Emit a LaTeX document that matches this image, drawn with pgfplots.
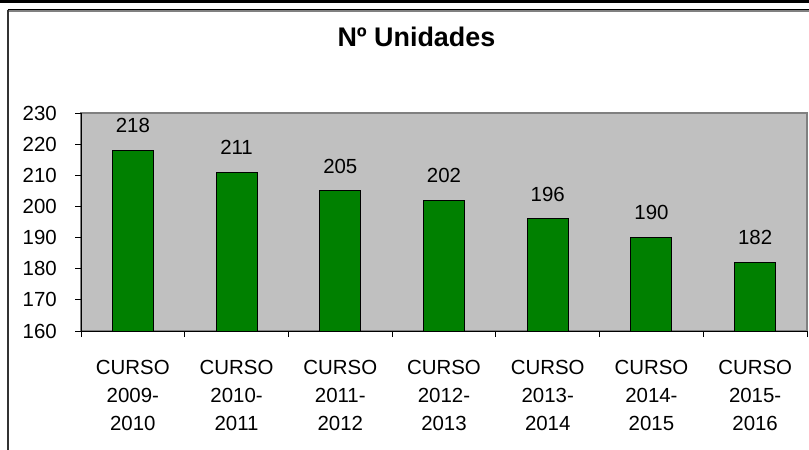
\documentclass[border=0pt]{standalone}
\usepackage{pgfplots}
\pgfplotsset{compat=1.18}
\usepackage{fontspec}
\setmainfont{Liberation Sans}
\definecolor{barGreen}{HTML}{008000}
\definecolor{plotGray}{HTML}{C0C0C0}
\definecolor{borderGray}{HTML}{808080}
\begin{document}
\begin{tikzpicture}
\useasboundingbox (0,0) rectangle (809bp,450bp);
% chart frame
\fill[black] (0,447.4bp) rectangle (809bp,450bp);
\draw[borderGray, line width=1.2bp] (8bp,439bp) -- (809bp,439bp);
\draw[black, line width=1.1bp] (7.5bp,440.2bp) -- (809bp,440.2bp);
\draw[black!80, line width=1.1bp] (8bp,440.2bp) -- (8bp,0bp);
\begin{axis}[
  at={(81bp,119bp)}, anchor=south west,
  width=726bp, height=218bp, scale only axis,
  /pgf/number format/assume math mode=true,
  xmin=-0.5, xmax=6.5, ymin=160, ymax=230,
  ytick={160,170,...,230},
  xtick={-0.5,0.5,1.5,2.5,3.5,4.5,5.5,6.5},
  x tick label as interval=true,
  xticklabels={{CURSO\\2009-\\2010},{CURSO\\2010-\\2011},{CURSO\\2011-\\2012},{CURSO\\2012-\\2013},{CURSO\\2013-\\2014},{CURSO\\2014-\\2015},{CURSO\\2015-\\2016}},
  xticklabel style={align=center, font=\fontsize{20.5}{28}\selectfont, inner sep=0pt, anchor=north, yshift=-23bp},
  yticklabel style={font=\fontsize{20.5}{24}\selectfont, inner sep=0pt, anchor=east, xshift=-18bp},
  tick align=outside, major tick length=6bp,
  tick style={black, line width=0.8bp},
  axis x line*=bottom, axis y line*=left,
  axis line style={-, black, line width=1bp},
  axis background/.style={fill=plotGray, draw=borderGray, line width=1.8bp},
  title={Nº Unidades},
  title style={at={(0.462,1)}, anchor=base, yshift=60.7bp, inner sep=0pt, font=\bfseries\fontsize{27}{32}\selectfont},
  ybar, bar width=41bp,
  nodes near coords,
  nodes near coords style={font=\fontsize{20.5}{24}\selectfont, anchor=south, inner sep=0pt, yshift=17bp, black},
]
\addplot[fill=barGreen, draw=black, line width=1bp] coordinates {(0,218) (1,211) (2,205) (3,202) (4,196) (5,190) (6,182)};
\end{axis}
\end{tikzpicture}
\end{document}
